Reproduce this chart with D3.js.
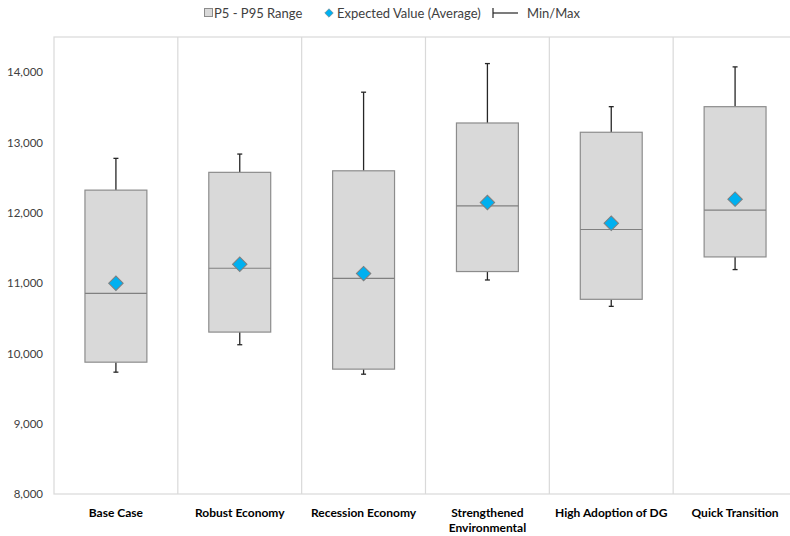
<!DOCTYPE html>
<html><head><meta charset="utf-8">
<script src="https://cdn.jsdelivr.net/npm/d3@7"></script>
<style>body{margin:0;background:#fff}svg{display:block}text{font-family:Lato,"Open Sans",sans-serif}</style>
</head><body><svg id="c" width="790" height="536"></svg>
<script>
const categories = ["Base Case","Robust Economy","Recession Economy","Strengthened Environmental","High Adoption of DG","Quick Transition"];
const p5Values   = [9875, 10303, 9776, 11164, 10769, 11372];
const p95Values  = [12322, 12575, 12597, 13277, 13145, 13509];
const medianValues = [10854, 11211, 11068, 12099, 11762, 12037];
const meanValues = [10997, 11268, 11135, 12147, 11852, 12194];
const minValues  = [9733, 10123, 9704, 11044, 10669, 11192];
const maxValues  = [12774, 12835, 13715, 14122, 13509, 14075];
const yTicks = [8000, 9000, 10000, 11000, 12000, 13000, 14000];

const svg = d3.select("#c");
const L = 54, R = 797, T = 37, B = 494;
const x = d3.scaleBand().domain(categories).range([L, R]).paddingInner(0.5).paddingOuter(0.25);
const y = d3.scaleLinear().domain([8000, 14500]).range([B, T]);
const grid = "#d9d9d9";

// plot border + separators
svg.append("rect").attr("x", L).attr("y", T).attr("width", R - L).attr("height", B - T)
  .attr("fill", "none").attr("stroke", grid).attr("stroke-width", 1.2);
const step = x.step();
for (let i = 1; i < categories.length; i++) {
  const xx = L + i * step;
  svg.append("line").attr("x1", xx).attr("x2", xx).attr("y1", T).attr("y2", B).attr("stroke", grid).attr("stroke-width", 1.2);
}

// y axis
const ya = svg.append("g").attr("transform", `translate(${L},0)`)
  .call(d3.axisLeft(y).tickValues(yTicks).tickFormat(d3.format(",")).tickSize(0).tickPadding(11));
ya.select(".domain").remove();
ya.selectAll("text").attr("font-size", 11.5).attr("fill", "#404040").style("font-family", "Lato, sans-serif");

// x labels
const data = categories.map((c, i) => ({c, p5: p5Values[i], p95: p95Values[i], med: medianValues[i], mean: meanValues[i], min: minValues[i], max: maxValues[i]}));
svg.selectAll(".xl").data(data).join("text").attr("class", "xl")
  .attr("x", d => x(d.c) + x.bandwidth() / 2).attr("y", 517)
  .attr("text-anchor", "middle").attr("font-size", 12).attr("font-weight", "bold").attr("fill", "#000")
  .each(function(d) {
    const words = d.c === "Strengthened Environmental" ? ["Strengthened", "Environmental"] : [d.c];
    d3.select(this).selectAll("tspan").data(words).join("tspan")
      .attr("x", x(d.c) + x.bandwidth() / 2).attr("dy", (w, k) => k === 0 ? 0 : 15).text(w => w);
  });

const g = svg.append("g");
const cx = d => x(d.c) + x.bandwidth() / 2;
// whiskers
g.selectAll(".wu").data(data).join("line").attr("x1", cx).attr("x2", cx).attr("y1", d => y(d.p95)).attr("y2", d => y(d.max)).attr("stroke", "#262626").attr("stroke-width", 1.3);
g.selectAll(".wd").data(data).join("line").attr("x1", cx).attr("x2", cx).attr("y1", d => y(d.p5)).attr("y2", d => y(d.min)).attr("stroke", "#262626").attr("stroke-width", 1.3);
g.selectAll(".cu").data(data).join("line").attr("x1", d => cx(d) - 2.5).attr("x2", d => cx(d) + 2.5).attr("y1", d => y(d.max)).attr("y2", d => y(d.max)).attr("stroke", "#262626").attr("stroke-width", 1.3);
g.selectAll(".cd").data(data).join("line").attr("x1", d => cx(d) - 2.5).attr("x2", d => cx(d) + 2.5).attr("y1", d => y(d.min)).attr("y2", d => y(d.min)).attr("stroke", "#262626").attr("stroke-width", 1.3);
// boxes
g.selectAll(".box").data(data).join("rect").attr("x", d => x(d.c)).attr("width", x.bandwidth())
  .attr("y", d => y(d.p95)).attr("height", d => y(d.p5) - y(d.p95))
  .attr("fill", "#d9d9d9").attr("stroke", "#8c8c8c").attr("stroke-width", 1.2);
g.selectAll(".med").data(data).join("line").attr("x1", d => x(d.c)).attr("x2", d => x(d.c) + x.bandwidth())
  .attr("y1", d => y(d.med)).attr("y2", d => y(d.med)).attr("stroke", "#808080").attr("stroke-width", 1.2);
// means
const dia = d3.symbol().type(d3.symbolSquare).size(105);
g.selectAll(".mean").data(data).join("path").attr("d", dia)
  .attr("transform", d => `translate(${cx(d)},${y(d.mean)}) rotate(45)`)
  .attr("fill", "#00b0f0").attr("stroke", "#7f7f7f").attr("stroke-width", 1);

// legend
const lg = svg.append("g");
const ly = 13;
lg.append("rect").attr("x", 204.5).attr("y", ly - 4.5).attr("width", 8).attr("height", 8).attr("fill", "#d9d9d9").attr("stroke", "#8c8c8c");
lg.append("text").attr("x", 214).attr("y", ly + 4.5).attr("font-size", 13).attr("fill", "#404040").text("P5 - P95 Range");
lg.append("path").attr("d", d3.symbol().type(d3.symbolSquare).size(36)).attr("transform", `translate(329,${ly}) rotate(45)`).attr("fill", "#00b0f0").attr("stroke", "#7f7f7f").attr("stroke-width", 0.6);
lg.append("text").attr("x", 337).attr("y", ly + 4.5).attr("font-size", 13).attr("fill", "#404040").text("Expected Value (Average)");
lg.append("line").attr("x1", 493).attr("x2", 493).attr("y1", ly - 5).attr("y2", ly + 5).attr("stroke", "#262626").attr("stroke-width", 1.2);
lg.append("line").attr("x1", 493).attr("x2", 518).attr("y1", ly).attr("y2", ly).attr("stroke", "#262626").attr("stroke-width", 1.2);
lg.append("text").attr("x", 527).attr("y", ly + 4.5).attr("font-size", 13).attr("fill", "#404040").text("Min/Max");
</script></body></html>
